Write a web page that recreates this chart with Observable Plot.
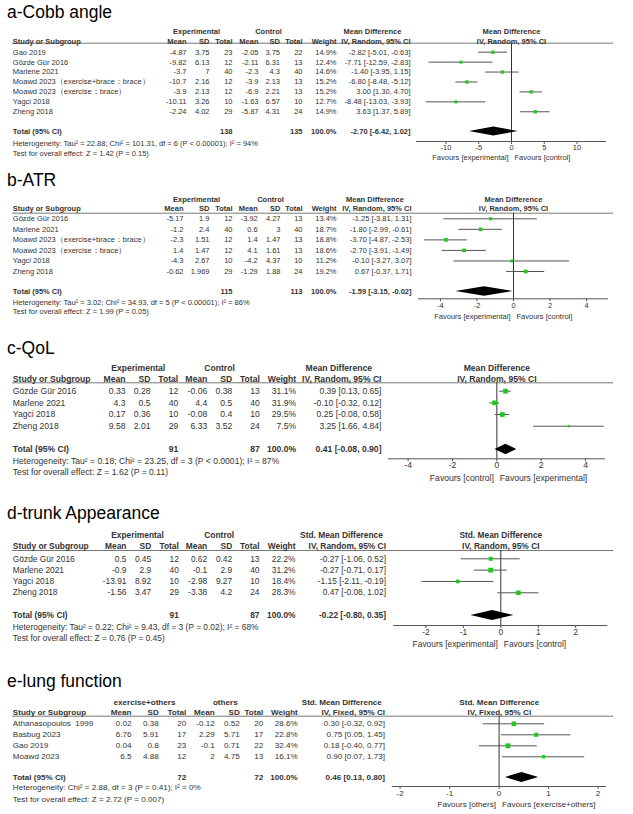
<!DOCTYPE html>
<html><head><meta charset="utf-8">
<script src="https://cdn.jsdelivr.net/npm/d3@7"></script>
<script src="https://cdn.jsdelivr.net/npm/@observablehq/plot@0.6"></script>
<style>
body{margin:0;background:#fff;font-family:"Liberation Sans",Arial,sans-serif;}
#root{position:relative;width:633px;height:814px;overflow:hidden;background:#fff}
.panel{position:absolute;left:0;width:633px}
.panel svg{position:absolute;left:0;top:0}
.title{position:absolute;left:7px;font-size:17.5px;line-height:17.5px;color:#000;white-space:nowrap;font-family:"Liberation Sans",Arial,sans-serif}
</style></head><body><div id="root"></div>
<script>
// ---------- a: Cobb angle ----------
const cobbStudies = ["Gao 2019","Gözde Gür 2016","Marlene 2021","Moawd 2023（exercise+brace：brace）","Moawd 2023（exercise：brace）","Yagci 2018","Zheng 2018"];
const cobbExpMean = [-4.87,-9.82,-3.7,-10.7,-3.9,-10.11,-2.24];
const cobbExpSD   = [3.75,6.13,7,2.16,2.13,3.26,4.02];
const cobbExpN    = [23,12,40,12,12,10,29];
const cobbCtlMean = [-2.05,-2.11,-2.3,-3.9,-6.9,-1.63,-5.87];
const cobbCtlSD   = [3.75,6.31,4.3,2.13,2.21,6.57,4.31];
const cobbCtlN    = [22,13,40,13,13,10,24];
const cobbWeight  = [14.9,12.4,14.6,15.2,15.2,12.7,14.9];
const cobbEst     = [-2.82,-7.71,-1.40,-6.80,3.00,-8.48,3.63];
const cobbLo      = [-5.01,-12.59,-3.95,-8.48,1.30,-13.03,1.37];
const cobbHi      = [-0.63,-2.83,1.15,-5.12,4.70,-3.93,5.89];
const cobbTotals  = [138,135];
const cobbPooled  = [-2.70,-6.42,1.02];
const cobbHet  = "Heterogeneity: Tau² = 22.88; Chi² = 101.31, df = 6 (P < 0.00001); I² = 94%";
const cobbTest = "Test for overall effect: Z = 1.42 (P = 0.15)";
const cobbTicks = [-10,-5,0,5,10];

// ---------- b: ATR ----------
const atrStudies = ["Gözde Gür 2016","Marlene 2021","Moawd 2023（exercise+brace：brace）","Moawd 2023（exercise：brace）","Yagci 2018","Zheng 2018"];
const atrExpMean = [-5.17,-1.2,-2.3,1.4,-4.3,-0.62];
const atrExpSD   = [1.9,2.4,1.51,1.47,2.67,1.969];
const atrExpN    = [12,40,12,12,10,29];
const atrCtlMean = [-3.92,0.6,1.4,4.1,-4.2,-1.29];
const atrCtlSD   = [4.27,3,1.47,1.61,4.37,1.88];
const atrCtlN    = [13,40,13,13,10,24];
const atrWeight  = [13.4,18.7,18.8,18.6,11.2,19.2];
const atrEst     = [-1.25,-1.80,-3.70,-2.70,-0.10,0.67];
const atrLo      = [-3.81,-2.99,-4.87,-3.91,-3.27,-0.37];
const atrHi      = [1.31,-0.61,-2.53,-1.49,3.07,1.71];
const atrTotals  = [115,113];
const atrPooled  = [-1.59,-3.15,-0.02];
const atrHet  = "Heterogeneity: Tau² = 3.02; Chi² = 34.93, df = 5 (P < 0.00001); I² = 86%";
const atrTest = "Test for overall effect: Z = 1.99 (P = 0.05)";
const atrTicks = [-4,-2,0,2,4];

// ---------- c: QoL ----------
const qolStudies = ["Gözde Gür 2016","Marlene 2021","Yagci 2018","Zheng 2018"];
const qolExpMean = [0.33,4.3,0.17,9.58];
const qolExpSD   = [0.28,0.5,0.36,2.01];
const qolExpN    = [12,40,10,29];
const qolCtlMean = [-0.06,4.4,-0.08,6.33];
const qolCtlSD   = [0.38,0.5,0.4,3.52];
const qolCtlN    = [13,40,10,24];
const qolWeight  = [31.1,31.9,29.5,7.5];
const qolEst     = [0.39,-0.10,0.25,3.25];
const qolLo      = [0.13,-0.32,-0.08,1.66];
const qolHi      = [0.65,0.12,0.58,4.84];
const qolTotals  = [91,87];
const qolPooled  = [0.41,-0.08,0.90];
const qolHet  = "Heterogeneity: Tau² = 0.18; Chi² = 23.25, df = 3 (P < 0.0001); I² = 87%";
const qolTest = "Test for overall effect: Z = 1.62 (P = 0.11)";
const qolTicks = [-4,-2,0,2,4];

// ---------- d: trunk Appearance ----------
const trunkStudies = ["Gözde Gür 2016","Marlene 2021","Yagci 2018","Zheng 2018"];
const trunkExpMean = [0.5,-0.9,-13.91,-1.56];
const trunkExpSD   = [0.45,2.9,8.92,3.47];
const trunkExpN    = [12,40,10,29];
const trunkCtlMean = [0.62,-0.1,-2.98,-3.38];
const trunkCtlSD   = [0.42,2.9,9.27,4.2];
const trunkCtlN    = [13,40,10,24];
const trunkWeight  = [22.2,31.2,18.4,28.3];
const trunkEst     = [-0.27,-0.27,-1.15,0.47];
const trunkLo      = [-1.06,-0.71,-2.11,-0.08];
const trunkHi      = [0.52,0.17,-0.19,1.02];
const trunkTotals  = [91,87];
const trunkPooled  = [-0.22,-0.80,0.35];
const trunkHet  = "Heterogeneity: Tau² = 0.22; Chi² = 9.43, df = 3 (P = 0.02); I² = 68%";
const trunkTest = "Test for overall effect: Z = 0.76 (P = 0.45)";
const trunkTicks = [-2,-1,0,1,2];

// ---------- e: lung function ----------
const lungStudies = ["Athanasopoulos  1999","Basbug 2023","Gao 2019","Moawd 2023"];
const lungExpMean = [0.02,6.76,0.04,6.5];
const lungExpSD   = [0.38,5.91,0.8,4.88];
const lungExpN    = [20,17,23,12];
const lungCtlMean = [-0.12,2.29,-0.1,2];
const lungCtlSD   = [0.52,5.71,0.71,4.75];
const lungCtlN    = [20,17,22,13];
const lungWeight  = [28.6,22.8,32.4,16.1];
const lungEst     = [0.30,0.75,0.18,0.90];
const lungLo      = [-0.32,0.05,-0.40,0.07];
const lungHi      = [0.92,1.45,0.77,1.73];
const lungTotals  = [72,72];
const lungPooled  = [0.46,0.13,0.80];
const lungHet  = "Heterogeneity: Chi² = 2.88, df = 3 (P = 0.41); I² = 0%";
const lungTest = "Test for overall effect: Z = 2.72 (P = 0.007)";
const lungTicks = [-2,-1,0,1,2];

const FONT = '"Liberation Sans", Arial, Helvetica, sans-serif';

const panels = [
  {title:"a-Cobb angle", studies:cobbStudies, eMean:cobbExpMean, eSD:cobbExpSD, eN:cobbExpN, cMean:cobbCtlMean, cSD:cobbCtlSD, cN:cobbCtlN,
   weight:cobbWeight, est:cobbEst, lo:cobbLo, hi:cobbHi, totals:cobbTotals, pooled:cobbPooled, het:cobbHet, test:cobbTest, ticks:cobbTicks,
   groups:["Experimental","Control"], measure:"Mean Difference", method:"IV, Random, 95% CI",
   favours:["Favours [experimental]","Favours [control]"], domain:[-14.5,14.5],
   L:{top:0, height:165, fs:7.5, titleTop:3.5, row0:51.7, step:9.93, group:31, header:40.7, rule:42.7, total:131, het:143.3, test:153.3,
      axis:141, fav:156.7, axL:416, axR:606, cols:[12.3,186,209,232,258,279.5,302,336,410], g1:196, g2:268, mh:372}},
  {title:"b-ATR", studies:atrStudies, eMean:atrExpMean, eSD:atrExpSD, eN:atrExpN, cMean:atrCtlMean, cSD:atrCtlSD, cN:atrCtlN,
   weight:atrWeight, est:atrEst, lo:atrLo, hi:atrHi, totals:atrTotals, pooled:atrPooled, het:atrHet, test:atrTest, ticks:atrTicks,
   groups:["Experimental","Control"], measure:"Mean Difference", method:"IV, Random, 95% CI",
   favours:["Favours [experimental]","Favours [control]"], domain:[-5.2,5.2],
   L:{top:165, height:160, fs:7.5, titleTop:7.2, row0:53.3, step:10.54, group:33.7, header:43.3, rule:47.7, total:126, het:136.7, test:146,
      axis:133.3, fav:150.7, axL:418, axR:608, cols:[12.3,183,209,232,257.3,280,302,336,411], g1:196, g2:270, mh:374.5}},
  {title:"c-QoL", studies:qolStudies, eMean:qolExpMean, eSD:qolExpSD, eN:qolExpN, cMean:qolCtlMean, cSD:qolCtlSD, cN:qolCtlN,
   weight:qolWeight, est:qolEst, lo:qolLo, hi:qolHi, totals:qolTotals, pooled:qolPooled, het:qolHet, test:qolTest, ticks:qolTicks,
   groups:["Experimental","Control"], measure:"Mean Difference", method:"IV, Random, 95% CI",
   favours:["Favours [control]","Favours [experimental]"], domain:[-4.9,4.9],
   L:{top:325, height:165, fs:8.6, titleTop:14.5, row0:65.7, step:11.67, group:42.3, header:53.3, rule:57.3, total:124, het:136, test:146.7,
      axis:133.3, fav:152.7, axL:387.7, axR:605, cols:[12.3,125,150,177.7,206.7,231.7,259.3,295.7,381], g1:137.7, g2:219, mh:338.3}},
  {title:"d-trunk Appearance", studies:trunkStudies, eMean:trunkExpMean, eSD:trunkExpSD, eN:trunkExpN, cMean:trunkCtlMean, cSD:trunkCtlSD, cN:trunkCtlN,
   weight:trunkWeight, est:trunkEst, lo:trunkLo, hi:trunkHi, totals:trunkTotals, pooled:trunkPooled, het:trunkHet, test:trunkTest, ticks:trunkTicks,
   groups:["Experimental","Control"], measure:"Std. Mean Difference", method:"IV, Random, 95% CI",
   favours:["Favours [experimental]","Favours [control]"], domain:[-2.86,2.86],
   L:{top:490, height:160, fs:8.4, titleTop:15.2, row0:68.3, step:11.33, group:44.3, header:55.7, rule:60, total:125, het:137, test:147.7,
      axis:135, fav:154, axL:393.3, axR:607.3, cols:[12.3,126,150.7,178.3,206.7,231.7,259,295,385.5], g1:137, g2:218.7, mh:341}},
  {title:"e-lung function", studies:lungStudies, eMean:lungExpMean, eSD:lungExpSD, eN:lungExpN, cMean:lungCtlMean, cSD:lungCtlSD, cN:lungCtlN,
   weight:lungWeight, est:lungEst, lo:lungLo, hi:lungHi, totals:lungTotals, pooled:lungPooled, het:lungHet, test:lungTest, ticks:lungTicks,
   groups:["exercise+others","others"], measure:"Std. Mean Difference", method:"IV, Fixed, 95% CI",
   favours:["Favours [others]","Favours [exercise+others]"], domain:[-2.16,2.17],
   L:{top:650, height:164, fs:8.1, titleTop:22.5, row0:73.3, step:11, group:51.7, header:62.3, rule:65.7, total:127, het:137.3, test:149,
      axis:136, fav:154.3, axL:391.7, axR:606, cols:[12.3,131,158.3,185.7,214.3,239.3,262.7,297.3,384.5], g1:144, g2:224.8, mh:341.3}}
];

const fmtCI = (e, l, h) => `${e.toFixed(2)} [${l.toFixed(2)}, ${h.toFixed(2)}]`;

function buildPanel(p) {
  const L = p.L;
  const row = px => (px - L.row0) / L.step;
  const rows = p.studies.map((s, i) => ({i, study: s, eMean: p.eMean[i], eSD: p.eSD[i], eN: p.eN[i],
    cMean: p.cMean[i], cSD: p.cSD[i], cN: p.cN[i], weight: p.weight[i], est: p.est[i], lo: p.lo[i], hi: p.hi[i]}));
  const yOpt = {domain: [0, 1], range: [L.row0, L.row0 + L.step], axis: null};
  const [cS, cEM, cESD, cEN, cCM, cCSD, cCN, cW, cE] = L.cols;
  const gRow = row(L.group), hRow = row(L.header), tRow = row(L.total);

  // table cells
  const cells = [];
  const add = (x, y, text, anchor, bold) => cells.push({x, y, text, anchor, bold: !!bold});
  add(L.g1, gRow, p.groups[0], "middle", 1);
  add(L.g2, gRow, p.groups[1], "middle", 1);
  add(L.mh, gRow, p.measure, "middle", 1);
  add(cS, hRow, "Study or Subgroup", "start", 1);
  [["Mean", cEM], ["SD", cESD], ["Total", cEN], ["Mean", cCM], ["SD", cCSD], ["Total", cCN], ["Weight", cW], [p.method, cE]]
    .forEach(([t, x]) => add(x, hRow, t, "end", 1));
  rows.forEach(d => {
    add(cS, d.i, d.study, "start");
    add(cEM, d.i, String(d.eMean), "end");
    add(cESD, d.i, String(d.eSD), "end");
    add(cEN, d.i, String(d.eN), "end");
    add(cCM, d.i, String(d.cMean), "end");
    add(cCSD, d.i, String(d.cSD), "end");
    add(cCN, d.i, String(d.cN), "end");
    add(cW, d.i, d.weight.toFixed(1) + "%", "end");
    add(cE, d.i, fmtCI(d.est, d.lo, d.hi), "end");
  });
  add(cS, tRow, "Total (95% CI)", "start", 1);
  add(cEN, tRow, String(p.totals[0]), "end", 1);
  add(cCN, tRow, String(p.totals[1]), "end", 1);
  add(cW, tRow, "100.0%", "end", 1);
  add(cE, tRow, fmtCI(...p.pooled), "end", 1);
  add(cS, row(L.het), p.het, "start");
  add(cS, row(L.test), p.test, "start");

  const textMarks = [];
  for (const anchor of ["start", "middle", "end"]) for (const bold of [false, true]) {
    const sub = cells.filter(c => c.anchor === anchor && c.bold === bold);
    if (sub.length) textMarks.push(Plot.text(sub, {x: "x", y: "y", text: "text", textAnchor: anchor,
      fontWeight: bold ? "bold" : "normal", fontSize: L.fs, fill: "#333"}));
  }

  const style = {fontFamily: FONT, color: "#333", background: "transparent", overflow: "visible"};

  const table = Plot.plot({
    width: 633, height: L.height, margin: 0, style,
    x: {domain: [0, 633], range: [0, 633], axis: null},
    y: yOpt,
    marks: [
      Plot.ruleY([row(L.rule)], {x1: 12, x2: 613, stroke: "#777"}),
      ...textMarks
    ]
  });

  const h = 0.45;
  const [pe, pl, ph] = p.pooled;
  const diamond = [{y: tRow - h, x1: pe, x2: pe}, {y: tRow, x1: pl, x2: ph}, {y: tRow + h, x1: pe, x2: pe}];

  const forest = Plot.plot({
    width: 633, height: L.height, style,
    marginTop: L.rule, marginBottom: L.height - L.axis, marginLeft: L.axL, marginRight: 633 - L.axR,
    x: {domain: p.domain, axis: null, label: null},
    y: yOpt,
    r: {type: "sqrt", domain: [0, 100], range: [0, 4.8]},
    marks: [
      Plot.ruleY([row(L.axis)], {stroke: "#555"}),
      Plot.axisX(p.ticks, {anchor: "bottom", tickSize: 3, tickPadding: 0.5, tickFormat: d => String(d),
        fontSize: L.fs, stroke: "#555", fill: "#333", label: null}),
      Plot.ruleX([0], {stroke: "#333"}),
      Plot.ruleY(rows, {y: "i", x1: "lo", x2: "hi", stroke: "#555"}),
      Plot.dot(rows, {x: "est", y: "i", r: "weight", symbol: "square", fill: "#1ec81e"}),
      Plot.areaX(diamond, {y: "y", x1: "x1", x2: "x2", fill: "#000"}),
      Plot.text([p.measure], {y: gRow, frameAnchor: "middle", fontWeight: "bold", fontSize: L.fs, fill: "#333"}),
      Plot.text([p.method], {y: hRow, frameAnchor: "middle", fontWeight: "bold", fontSize: L.fs, fill: "#333"}),
      Plot.text([p.favours[0]], {x: 0, y: row(L.fav), dx: -3, textAnchor: "end", fontSize: L.fs, fill: "#333"}),
      Plot.text([p.favours[1]], {x: 0, y: row(L.fav), dx: 3, textAnchor: "start", fontSize: L.fs, fill: "#333"})
    ]
  });

  const div = document.createElement("div");
  div.className = "panel";
  div.style.top = L.top + "px";
  div.style.height = L.height + "px";
  div.appendChild(table);
  div.appendChild(forest);
  const t = document.createElement("div");
  t.className = "title";
  t.style.top = L.titleTop + "px";
  t.textContent = p.title;
  div.appendChild(t);
  return div;
}

const root = document.getElementById("root");
panels.forEach(p => root.appendChild(buildPanel(p)));
</script></body></html>
